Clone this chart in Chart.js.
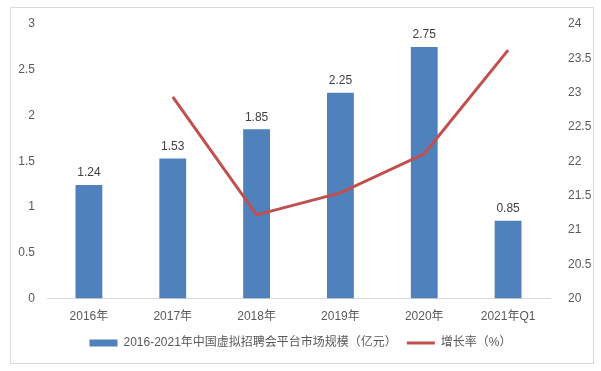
<!DOCTYPE html>
<html>
<head>
<meta charset="utf-8">
<script src="https://cdn.jsdelivr.net/npm/chart.js@4/dist/chart.umd.min.js"></script>
<style>
  html, body { margin: 0; padding: 0; background: #fff; }
  #wrap { position: relative; width: 601px; height: 371px; }
  #frame { position: absolute; left: 10px; top: 7px; width: 582px; height: 355px; border: 1px solid #d9d9d9; }
  canvas { position: absolute; left: 0; top: 0; }
</style>
</head>
<body>
<div id="wrap">
  <div id="frame"></div>
  <canvas id="chart" width="601" height="371"></canvas>
</div>
<script>
// chart data
const categories = ["2016年", "2017年", "2018年", "2019年", "2020年", "2021年Q1"];
const marketSize = [1.24, 1.53, 1.85, 2.25, 2.75, 0.85];
const growthRate = [null, 22.94, 21.22, 21.54, 22.11, 23.62];
const seriesNames = ["2016-2021年中国虚拟招聘会平台市场规模（亿元）", "增长率（%）"];

const FONT = "'Liberation Sans', 'Noto Sans CJK SC', sans-serif";
const TEXT = "#595959";

// value labels above bars (bar dataset is index 1)
const barLabels = {
  id: "barLabels",
  afterDatasetsDraw(chart) {
    const meta = chart.getDatasetMeta(1);
    const ctx = chart.ctx;
    ctx.save();
    ctx.font = "12px " + FONT;
    ctx.fillStyle = "#404040";
    ctx.textAlign = "center";
    ctx.textBaseline = "bottom";
    meta.data.forEach((bar, i) => {
      ctx.fillText(marketSize[i].toFixed(2), bar.x, bar.y - 6);
    });
    ctx.restore();
  },
};

const plainTick = (v) => String(v);

new Chart(document.getElementById("chart"), {
  data: {
    labels: categories,
    datasets: [
      {
        type: "line",
        label: seriesNames[1],
        data: growthRate,
        yAxisID: "y1",
        borderColor: "#C0504D",
        backgroundColor: "#C0504D",
        borderWidth: 3,
        pointRadius: 0,
        tension: 0,
        order: 0,
      },
      {
        type: "bar",
        label: seriesNames[0],
        data: marketSize,
        yAxisID: "y",
        backgroundColor: "#4F81BD",
        categoryPercentage: 1,
        barPercentage: 0.32,
        order: 1,
      },
    ],
  },
  options: {
    responsive: false,
    animation: false,
    layout: { padding: { top: 24, bottom: 12, left: 0, right: 0 } },
    scales: {
      x: {
        grid: { display: false },
        border: { color: "#d9d9d9" },
        ticks: { color: TEXT, font: { family: FONT, size: 12 }, padding: 3 },
      },
      y: {
        position: "left",
        min: 0,
        max: 3,
        ticks: { stepSize: 0.5, color: TEXT, font: { family: FONT, size: 12 }, padding: 4, callback: plainTick },
        grid: { display: false },
        border: { display: false },
        afterFit: (axis) => { axis.width = 47; },
      },
      y1: {
        position: "right",
        min: 20,
        max: 24,
        ticks: { stepSize: 0.5, color: TEXT, font: { family: FONT, size: 12 }, padding: 10, callback: plainTick },
        grid: { display: false },
        border: { display: false },
        afterFit: (axis) => { axis.width = 51; },
      },
    },
    plugins: {
      tooltip: { enabled: false },
      legend: {
        position: "bottom",
        labels: {
          color: TEXT,
          font: { family: FONT, size: 12 },
          usePointStyle: true,
          pointStyleWidth: 28,
          boxHeight: 7,
          padding: 10,
          generateLabels(chart) {
            const items = Chart.defaults.plugins.legend.labels.generateLabels(chart);
            items.forEach((it) => {
              if (it.datasetIndex === 1) {
                it.pointStyle = "rect";
                it.lineWidth = 0;
              } else {
                it.pointStyle = "line";
                it.lineWidth = 3;
                it.strokeStyle = "#C0504D";
              }
            });
            return items.sort((a, b) => b.datasetIndex - a.datasetIndex);
          },
        },
      },
    },
  },
  plugins: [barLabels],
});
</script>
</body>
</html>
